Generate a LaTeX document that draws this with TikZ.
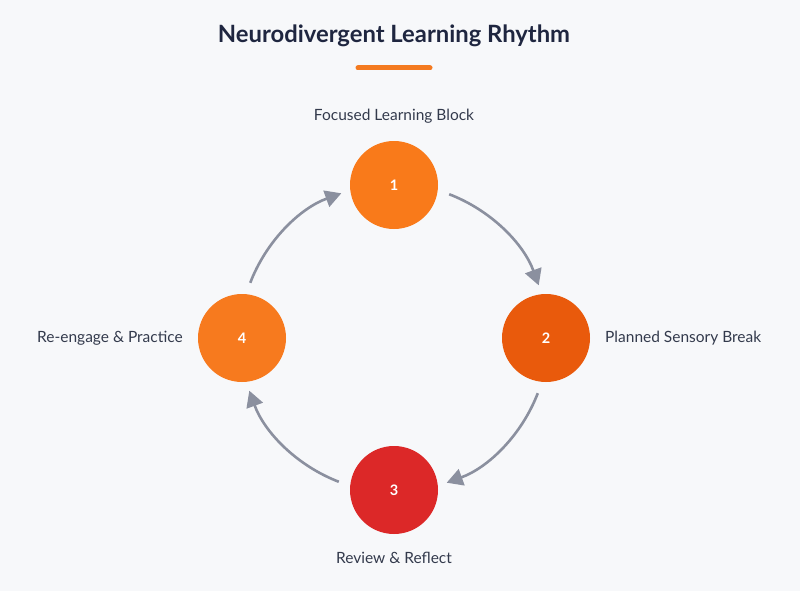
\documentclass[tikz,border=0pt]{standalone}
\usepackage{fontspec}
\setmainfont{Lato}
\usetikzlibrary{arrows.meta}
\definecolor{bg}{HTML}{F7F8FA}
\definecolor{titlec}{HTML}{1F2640}
\definecolor{labelc}{HTML}{333A4C}
\definecolor{arrowc}{HTML}{8B909F}
\definecolor{cA}{HTML}{F97A1A}
\definecolor{cB}{HTML}{E95A0C}
\definecolor{cC}{HTML}{DC2828}
\definecolor{cD}{HTML}{F77A1E}
\definecolor{uline}{HTML}{F47A20}
\tikzset{
  stepcircle/.style={circle, minimum size=88pt, inner sep=0pt, text=white, font=\fontsize{14.5}{16}\selectfont\bfseries},
  steplabel/.style={text=labelc, font=\fontsize{15.5}{18}\selectfont, inner sep=0pt},
  cyclearrow/.style={draw=arrowc, line width=2.6pt, -{Triangle[length=16pt,width=17pt]}}
}
\begin{document}
\begin{tikzpicture}[x=1pt,y=-1pt]
\fill[bg] (0,0) rectangle (800,591);
\useasboundingbox (0,0) rectangle (800,591);
\node[text=titlec, font=\fontsize{23.8}{28}\selectfont\bfseries] (title) at (394,36) {Neurodivergent Learning Rhythm};
\draw[uline, line width=5pt, line cap=round] (358,68) -- (430,68);
\coordinate (c) at (394,338);
\node[stepcircle, fill=cA] (n1) at (394,185) {1};
\node[stepcircle, fill=cB] (n2) at (546,338) {2};
\node[stepcircle, fill=cC] (n3) at (394,490) {3};
\node[stepcircle, fill=cD] (n4) at (242,338) {4};
\node[steplabel] (l1) at (394,116) {Focused Learning Block};
\node[steplabel, anchor=west] (l2) at (605,338) {Planned Sensory Break};
\node[steplabel] (l3) at (394,558) {Review \& Reflect};
\node[steplabel, anchor=east] (l4) at (183,338) {Re-engage \& Practice};
\draw[cyclearrow] ([shift={(-69:154)}]c) arc[start angle=-69, end angle=-20, radius=154];
\draw[cyclearrow] ([shift={(21:154)}]c) arc[start angle=21, end angle=70, radius=154];
\draw[cyclearrow] ([shift={(111:154)}]c) arc[start angle=111, end angle=160, radius=154];
\draw[cyclearrow] ([shift={(201:154)}]c) arc[start angle=201, end angle=250, radius=154];
\end{tikzpicture}
\end{document}
